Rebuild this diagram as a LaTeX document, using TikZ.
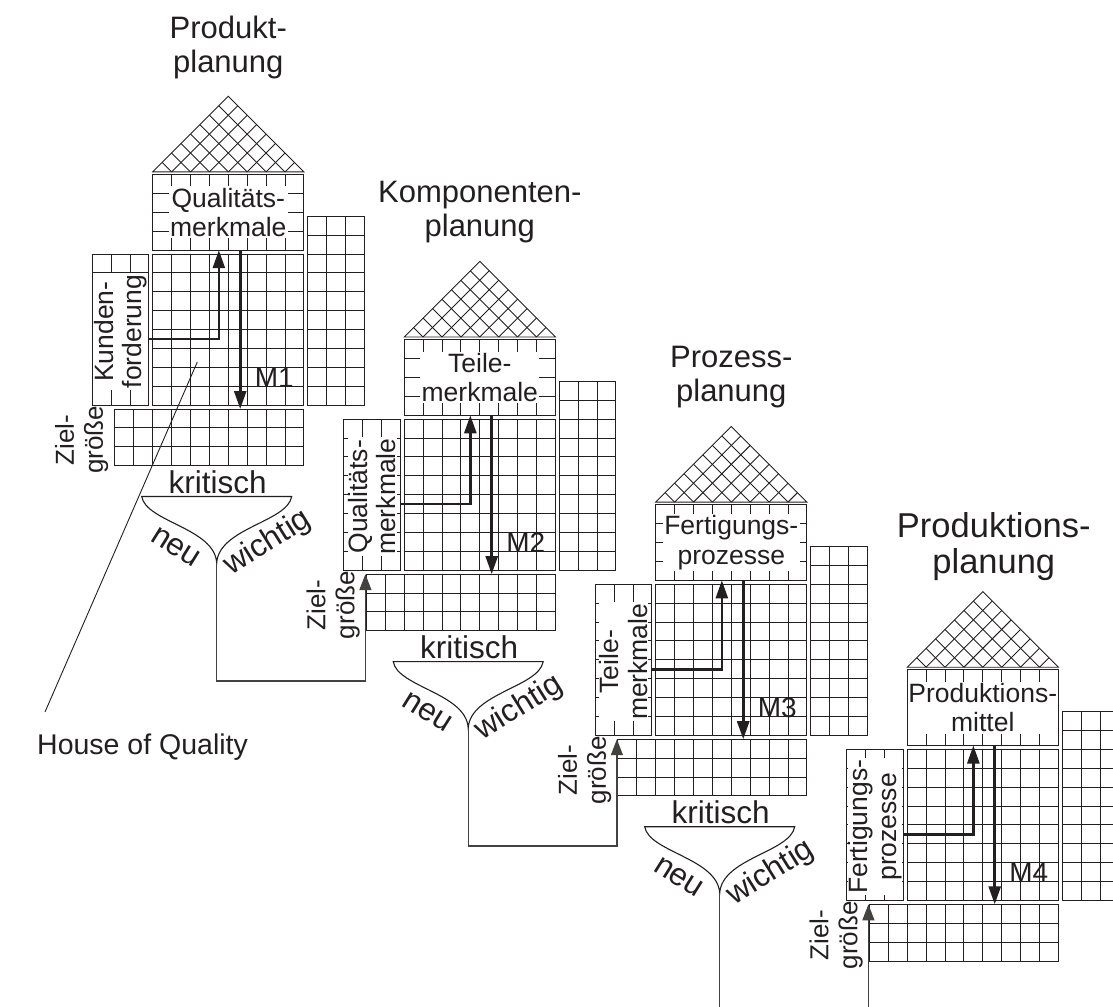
\documentclass[tikz,border=0pt]{standalone}
\usepackage{fontspec}
\setmainfont{Liberation Sans}
\usetikzlibrary{arrows.meta}
\definecolor{ink}{RGB}{35,31,32}

\def\cw{18.9}      % size of one matrix cell
\def\gp{3.8}       % gap between neighbouring blocks
\def\roofbase{-82.1}

\tikzset{
  cellline/.style={draw=ink, line width=1pt, line cap=rect},
  roofline/.style={draw=ink, line width=0.9pt},
  flowarrow/.style={draw=ink, line width=2.6pt, -{Triangle[length=18pt,width=12pt]}},
  feedline/.style={draw=ink!85, line width=1.3pt, -{Triangle[length=16pt,width=12pt]}},
  pointer/.style={draw=ink, line width=0.9pt},
  cellcaption/.style={fill=white, inner sep=1.5pt, align=center, text=ink,
    font=\fontsize{26.5}{29.5}\selectfont},
  sidecaption/.style={cellcaption, inner ysep=0.5pt, rotate=90,
    font=\fontsize{26.5}{28.5}\selectfont},
  goalcaption/.style={inner sep=0pt, align=center, text=ink,
    font=\fontsize{26}{29}\selectfont},
  phasetitle/.style={inner sep=0pt, align=center, text=ink,
    font=\fontsize{31}{34}\selectfont},
  bigtitle/.style={font=\fontsize{34.5}{36}\selectfont},
  funnelline/.style={draw=ink, line width=1.1pt},
  funnelword/.style={inner sep=0pt, text=ink, font=\fontsize{31.5}{33}\selectfont},
  mlabel/.style={inner sep=0pt, text=ink, font=\fontsize{28}{30}\selectfont},
}

% block of cells: top-left x, top-left y, columns, rows
\newcommand\cellblock[4]{%
  \begin{scope}[shift={(#1,#2)}]
    \foreach \i in {0,...,#3} \draw[cellline] (\i*\cw,0) -- (\i*\cw,#4*\cw);
    \foreach \j in {0,...,#4} \draw[cellline] (0,\j*\cw) -- (#3*\cw,\j*\cw);
  \end{scope}}

% one house: [title style], name, x, y (top-left of the central matrix),
% title, roof-box caption, left-box caption, matrix label
\newcommand\qfdhouse[8][]{%
  \begin{scope}[shift={(#3,#4)}]
    % roof with diamond lattice
    \draw[roofline] (0,\roofbase) -- (8*\cw,\roofbase) -- (4*\cw,\roofbase-4*\cw) -- cycle;
    \foreach \k in {1,...,7} {
      \draw[roofline] (\k*\cw,\roofbase) -- ({(8+\k)*\cw/2},{\roofbase-(8-\k)*\cw/2});
      \draw[roofline] (\k*\cw,\roofbase) -- ({\k*\cw/2},{\roofbase-\k*\cw/2});
    }
    % blocks
    \cellblock{0}{-\gp-4*\cw}{8}{4}
    \node[cellcaption] (#2-top) at (4*\cw,-\gp-2*\cw) {#6};
    \draw[cellline] (0,-\gp-4*\cw) rectangle (8*\cw,-\gp);
    \cellblock{-\gp-3*\cw}{0}{3}{8}
    \node[sidecaption] (#2-left) at (-\gp-1.5*\cw,4*\cw+2) {#7};
    \draw[cellline] (-\gp-3*\cw,0) rectangle (-\gp,8*\cw);
    \cellblock{0}{0}{8}{8}
    \cellblock{8*\cw+\gp}{-2*\cw}{3}{10}
    \cellblock{-2*\cw}{8*\cw+\gp}{10}{3}
    % captions
    \node[goalcaption, rotate=90] (#2-goal) at (-71,186) {Ziel-\\größe};
    \node[phasetitle, #1] (#2-title) at (4*\cw,-207) {#5};
    \node[mlabel, anchor=base west] (#2-m) at (102,133) {#8};
    % flow through the matrix
    \coordinate (#2-from) at (-\gp,4.5*\cw);
    \coordinate (#2-up)   at (3.5*\cw,-\gp);
    \coordinate (#2-down) at (4.63*\cw,-\gp);
    \coordinate (#2-out)  at (4.63*\cw,8*\cw+\gp);
    \coordinate (#2-in)   at (-2*\cw-1,8*\cw+\gp);
    \draw[flowarrow] (#2-from) -| (#2-up);
    \draw[flowarrow] (#2-down) -- (#2-out);
  \end{scope}}

% selection funnel below a house: name, x, y
\newcommand\qfdfunnel[3]{%
  \begin{scope}[shift={(#2,#3)}]
    \draw[funnelline] (-11,242.5) -- (139,242.5)
      .. controls (134.7,268) and (66,274) .. (64,309)
      .. controls (62,274) and (-6.7,268) .. cycle;
    \coordinate (#1-tip) at (64,309);
    \node[funnelword, anchor=base] (#1-crit) at (65,239) {kritisch};
    \node[funnelword, rotate=-32] (#1-new) at (23,293) {neu};
    \node[funnelword, rotate=32] (#1-imp) at (115,289) {wichtig};
  \end{scope}}

\begin{document}
\begin{tikzpicture}[x=1pt, y=-1pt]
  \clip (0,0) rectangle (1113,1006);

  \qfdhouse{h1}{152.7}{254}{Produkt-\\planung}{Qualitäts-\\merkmale}{Kunden-\\forderung}{M1}
  \qfdhouse{h2}{404.2}{419.1}{Komponenten-\\planung}{Teile-\\merkmale}{Qualitäts-\\merkmale}{M2}
  \qfdhouse{h3}{655.7}{584.2}{Prozess-\\planung}{Fertigungs-\\prozesse}{Teile-\\merkmale}{M3}
  \qfdhouse[bigtitle, xshift=11pt, yshift=-4pt]{h4}{907.2}{749.3}{Produktions-\\planung}{Produktions-\\mittel}{Fertigungs-\\prozesse}{M4}

  \qfdfunnel{f1}{152.7}{254}
  \qfdfunnel{f2}{404.2}{419.1}
  \qfdfunnel{f3}{655.7}{584.2}

  % hand-over from one phase to the next
  \draw[feedline] (f1-tip) -- ++(0,118) -| (h2-in);
  \draw[feedline] (f2-tip) -- ++(0,118) -| (h3-in);
  \draw[feedline] (f3-tip) -- ++(0,118) -| (h4-in);

  % label of the first house
  \node[anchor=base west, inner sep=0pt, text=ink, font=\fontsize{28.5}{30}\selectfont]
    (hoq) at (37,754) {House of Quality};
  \coordinate (hoq-tail) at (45,712);
  \coordinate (h1-spot) at (197.3,362);
  \draw[pointer] (hoq-tail) -- (h1-spot);
\end{tikzpicture}
\end{document}
